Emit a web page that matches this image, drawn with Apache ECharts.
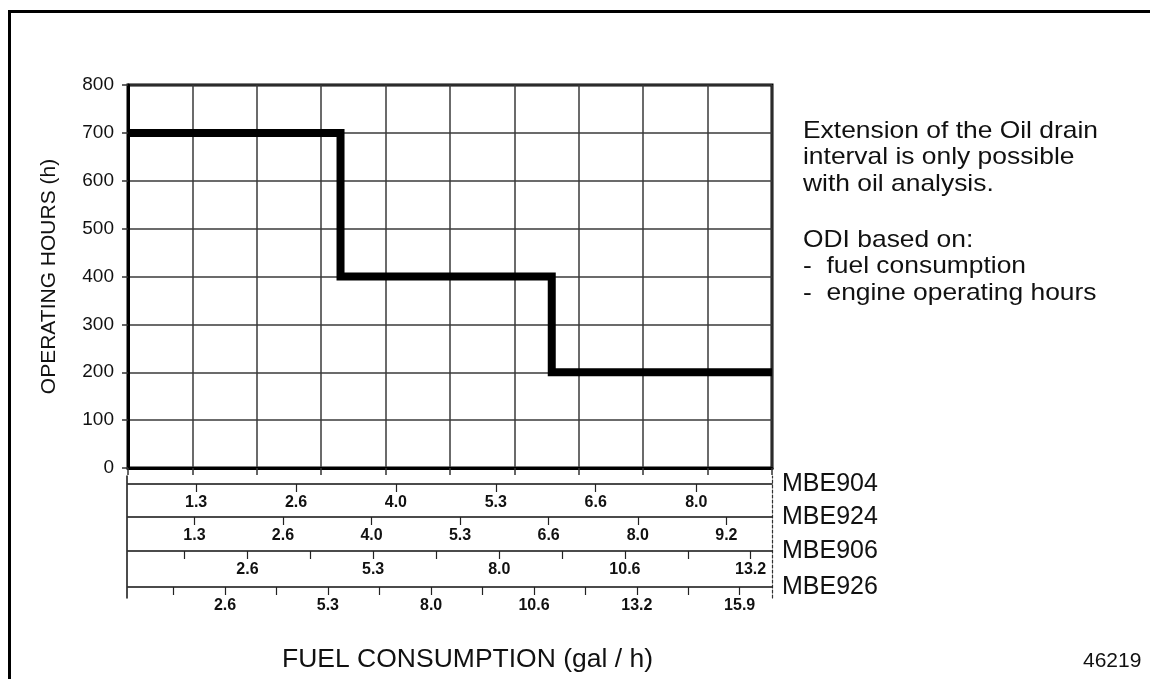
<!DOCTYPE html>
<html>
<head>
<meta charset="utf-8">
<script src="https://cdn.jsdelivr.net/npm/echarts@6/dist/echarts.min.js"></script>
<style>
  html, body { margin: 0; padding: 0; background: #fff; }
  #chart { width: 1150px; height: 679px; }
</style>
</head>
<body>
<div id="chart"></div>
<script>
// oil drain interval step curve (x in chart divisions 0..10)
const stepX = [0, 3.3, 3.3, 6.58, 6.58, 10];
const stepHours = [700, 700, 400, 400, 200, 200];

// fuel consumption scales, one per engine (gal/h)
const engines = ['MBE904', 'MBE924', 'MBE906', 'MBE926'];
const tickValues = [
  [1.32, 2.64, 3.96, 5.28, 6.60, 7.93],
  [1.32, 2.64, 3.96, 5.28, 6.60, 7.93, 9.25],
  [1.32, 2.64, 3.96, 5.28, 6.60, 7.93, 9.25, 10.57, 11.89, 13.21],
  [1.32, 2.64, 3.96, 5.28, 6.60, 7.93, 9.25, 10.57, 11.89, 13.21, 14.53, 15.85]
];
const labelValues = [
  [1.32, 2.64, 3.96, 5.28, 6.60, 7.93],
  [1.32, 2.64, 3.96, 5.28, 6.60, 7.93, 9.25],
  [2.64, 5.28, 7.93, 10.57, 13.21],
  [2.64, 5.28, 7.93, 10.57, 13.21, 15.85]
];
const labelTexts = [
  ['1.3', '2.6', '4.0', '5.3', '6.6', '8.0'],
  ['1.3', '2.6', '4.0', '5.3', '6.6', '8.0', '9.2'],
  ['2.6', '5.3', '8.0', '10.6', '13.2'],
  ['2.6', '5.3', '8.0', '10.6', '13.2', '15.9']
];
const scaleMin = [0.42, 0.33, 0.13, 0.15];
const scaleMax = [8.93, 9.93, 13.66, 16.68];
const scaleOffset = [16, 49, 83, 119];

const noteLines1 = ['Extension of the Oil drain', 'interval is only possible', 'with oil analysis.'];
const noteLines2 = ['ODI based on:', '-  fuel consumption', '-  engine operating hours'];

const FONT = '"Liberation Sans", Arial, Helvetica, sans-serif';
const chart = echarts.init(document.getElementById('chart'));

const scaleAxes = engines.map(function (name, i) {
  return {
    type: 'value',
    gridIndex: 0,
    position: 'bottom',
    offset: scaleOffset[i],
    min: scaleMin[i],
    max: scaleMax[i],
    name: name,
    nameLocation: 'end',
    nameGap: 10,
    nameTextStyle: { fontSize: 25, color: '#111', fontFamily: FONT, verticalAlign: 'middle' },
    axisLine: { show: true, lineStyle: { color: '#111', width: 1.5 } },
    axisTick: { show: true, length: 8, customValues: tickValues[i], lineStyle: { color: '#222', width: 1.2 } },
    axisLabel: {
      show: true,
      customValues: labelValues[i],
      margin: 11,
      fontSize: 16,
      fontWeight: 'bold',
      color: '#111',
      fontFamily: FONT,
      formatter: function (v) {
        let best = 0;
        labelValues[i].forEach(function (lv, k) {
          if (Math.abs(lv - v) < Math.abs(labelValues[i][best] - v)) best = k;
        });
        return labelTexts[i][best];
      }
    },
    splitLine: { show: false }
  };
});

const option = {
  animation: false,
  backgroundColor: '#fff',
  textStyle: { fontFamily: FONT },
  grid: [
    { left: 128, right: 378, top: 85, bottom: 211, outerBoundsMode: 'none', show: true, borderColor: '#000', borderWidth: 3 },
    { left: 127, right: 378, top: 476, bottom: 81, outerBoundsMode: 'none' }
  ],
  graphic: [
    { type: 'rect', left: 7, top: 9, shape: { width: 1200, height: 720 }, style: { fill: 'none', stroke: '#000', lineWidth: 3 } },
    {
      type: 'text', x: 803, y: 118, scaleX: 1.1,
      style: { text: noteLines1.join('\n'), font: '24px ' + FONT, fill: '#111', lineHeight: 26.5, verticalAlign: 'top' }
    },
    {
      type: 'text', x: 803, y: 227, scaleX: 1.1,
      style: { text: noteLines2.join('\n'), font: '24px ' + FONT, fill: '#111', lineHeight: 26.5, verticalAlign: 'top' }
    },
    {
      type: 'text', x: 282, y: 660, scaleX: 1.06,
      style: { text: 'FUEL CONSUMPTION (gal / h)', font: '25px ' + FONT, fill: '#111', verticalAlign: 'middle' }
    },
    { type: 'text', x: 1083, y: 661, style: { text: '46219', font: '21px ' + FONT, fill: '#111', verticalAlign: 'middle' } }
  ],
  xAxis: [
    {
      type: 'value',
      gridIndex: 0,
      min: 0,
      max: 10,
      interval: 1,
      axisLine: { show: true, lineStyle: { color: '#000', width: 3 } },
      axisTick: { show: true, length: 7, lineStyle: { color: '#333', width: 1.5 } },
      axisLabel: { show: false },
      splitLine: { show: true, lineStyle: { color: '#3a3a3a', width: 1.5 } }
    }
  ].concat(scaleAxes).concat([
    { type: 'value', gridIndex: 1, min: 0, max: 1, show: false }
  ]),
  yAxis: [
    {
      type: 'value',
      gridIndex: 0,
      min: 0,
      max: 800,
      interval: 100,
      name: 'OPERATING HOURS (h)',
      nameLocation: 'middle',
      nameGap: 68,
      nameRotate: 90,
      nameTextStyle: { fontSize: 21, color: '#111', fontFamily: FONT },
      axisLine: { show: true, lineStyle: { color: '#000', width: 3 } },
      axisTick: { show: true, length: 6, lineStyle: { color: '#333', width: 1.5 } },
      axisLabel: { fontSize: 19, color: '#111', margin: 14, padding: [7, 0, 0, 0], fontFamily: FONT },
      splitLine: { show: true, lineStyle: { color: '#3a3a3a', width: 1.5 } }
    },
    {
      type: 'value', gridIndex: 1, position: 'left', min: 0, max: 1,
      axisLine: { show: true, lineStyle: { color: '#111', width: 1.5 } },
      axisTick: { show: false }, axisLabel: { show: false }, splitLine: { show: false }
    },
    {
      type: 'value', gridIndex: 1, position: 'right', min: 0, max: 1,
      axisLine: { show: true, lineStyle: { color: '#333', width: 1.2, type: [3, 2] } },
      axisTick: { show: false }, axisLabel: { show: false }, splitLine: { show: false }
    }
  ],
  series: [
    {
      type: 'line',
      xAxisIndex: 0,
      yAxisIndex: 0,
      data: stepX.map(function (x, i) { return [x, stepHours[i]]; }),
      symbol: 'none',
      lineStyle: { color: '#000', width: 8, cap: 'butt', join: 'miter' },
      clip: true,
      z: 5
    }
  ]
};

chart.setOption(option);
</script>
</body>
</html>
